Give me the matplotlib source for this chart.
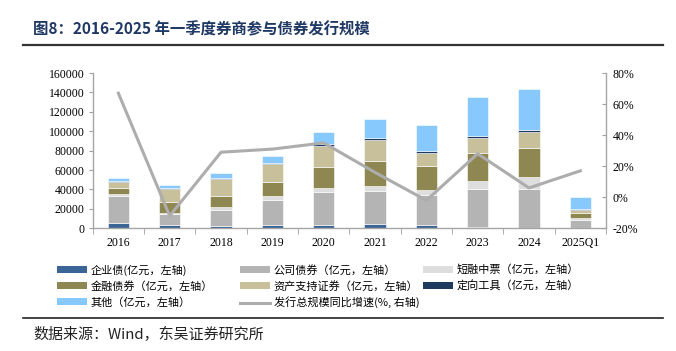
import matplotlib
matplotlib.use("Agg")
import matplotlib.pyplot as plt
import numpy as np
from matplotlib.patches import Patch
from matplotlib.lines import Line2D

categories = ["2016", "2017", "2018", "2019", "2020", "2021", "2022", "2023", "2024", "2025Q1"]
qiyezhai = [5800, 3400, 2700, 3400, 3400, 4500, 3400, 1700, 300, 0]
gongsi = [27800, 11000, 16200, 25800, 34400, 34200, 31000, 38500, 39900, 8600]
duanrong = [1400, 1700, 2800, 4100, 4100, 4800, 5100, 8500, 12400, 2300]
jinrong = [6300, 11400, 11600, 14800, 21700, 26100, 24800, 29200, 30000, 5200]
abs_ = [6800, 12700, 17600, 17900, 21300, 21200, 13700, 14900, 16100, 2800]
dingxiang = [1000, 1100, 1000, 1400, 2100, 2100, 2100, 2400, 2700, 1300]
qita = [3100, 3100, 4900, 7200, 12700, 19500, 26200, 39900, 42000, 12400]
growth = [67, -12, 29, 31, 35, 16, -2, 28, 6, 17]

series = [
    ("企业债(亿元，左轴)", qiyezhai, "#3B6597"),
    ("公司债券（亿元，左轴）", gongsi, "#B4B4B4"),
    ("短融中票（亿元，左轴）", duanrong, "#DEDEDE"),
    ("金融债券（亿元，左轴）", jinrong, "#8F8751"),
    ("资产支持证券（亿元，左轴）", abs_, "#C7C09B"),
    ("定向工具（亿元，左轴）", dingxiang, "#1E3A5F"),
    ("其他（亿元，左轴）", qita, "#88C9FD"),
]
line_label = "发行总规模同比增速(%, 右轴)"
line_color = "#ADADAD"

CJK = ["Noto Sans CJK SC", "DejaVu Sans"]
SERIF = ["Liberation Serif", "Noto Sans CJK SC"]

fig = plt.figure(figsize=(6.76, 3.51), dpi=100)
W, H = 676, 351
ax = fig.add_axes([92.7 / W, 1 - 228.3 / H, (606 - 92.7) / W, (228.3 - 73) / H])

x = np.arange(len(categories))
bottom = np.zeros(len(categories))
for name, vals, col in series:
    ax.bar(x, vals, width=0.42, bottom=bottom, color=col, edgecolor="white", linewidth=0.4, zorder=2)
    bottom += np.array(vals)

ax.set_xlim(-0.5, len(categories) - 0.5)
ax.set_ylim(0, 160000)
ax.set_yticks(np.arange(0, 160001, 20000))
ax.set_yticklabels([str(v) for v in range(0, 160001, 20000)], fontfamily=SERIF, fontsize=8.5)
ax.set_xticks(x)
ax.set_xticklabels(categories, fontfamily=SERIF, fontsize=8.5)
ax.set_xticks(np.arange(-0.5, len(categories)), minor=True)
ax.tick_params(axis="x", which="major", length=0, pad=6)
ax.tick_params(axis="x", which="minor", length=4, color="#A0A0A0", direction="out")
ax.tick_params(axis="y", length=3, color="#A0A0A0", direction="out", pad=3)
for s in ["top", "right"]:
    ax.spines[s].set_visible(False)
for s in ["left", "bottom"]:
    ax.spines[s].set_color("#A6A6A6")
    ax.spines[s].set_linewidth(1.0)

ax2 = ax.twinx()
ax2.plot(x, growth, color=line_color, linewidth=2.2, zorder=3)
ax2.set_ylim(-20, 80)
ax2.set_yticks(np.arange(-20, 81, 20))
ax2.set_yticklabels([f"{v}%" for v in range(-20, 81, 20)], fontfamily=SERIF, fontsize=8.5)
ax2.tick_params(axis="y", length=3, color="#A0A0A0", direction="in", pad=5)
for s in ["top", "left", "bottom"]:
    ax2.spines[s].set_visible(False)
ax2.spines["right"].set_color("#A6A6A6")
ax2.spines["right"].set_linewidth(1.0)

# legend: three columns
handles = [Patch(facecolor=c, edgecolor="none", label=n) for n, _, c in series]
line_handle = Line2D([], [], color=line_color, linewidth=2.2, label=line_label)
cols = [
    [handles[0], handles[3], handles[6]],
    [handles[1], handles[4], line_handle],
    [handles[2], handles[5]],
]
xs = [57, 240, 423]
for hx, hs in zip(xs, cols):
    leg = fig.legend(handles=hs, loc="upper left", bbox_to_anchor=(hx / W, 1 - 264.5 / H),
                     frameon=False, ncol=1, prop={"family": CJK, "size": 8},
                     handlelength=2.7, handleheight=0.55, handletextpad=0.35,
                     labelspacing=0.45, borderaxespad=0, borderpad=0)

# title and lines
fig.text(33 / W, 1 - 29.5 / H, "图8：2016-2025 年一季度券商参与债券发行规模", fontfamily=CJK,
         fontsize=11.1, fontweight="bold", color="#1F3864", va="center", ha="left")
fig.add_artist(Line2D([23 / W, 663 / W], [1 - 45 / H, 1 - 45 / H], color="#333333", linewidth=1.6))
fig.add_artist(Line2D([23 / W, 663 / W], [1 - 318 / H, 1 - 318 / H], color="#222222", linewidth=1.2))
fig.text(33 / W, 1 - 334 / H, "数据来源：Wind，东吴证券研究所", fontfamily=["Noto Sans CJK SC", "DejaVu Sans"],
         fontsize=10.8, color="#222222", va="center", ha="left")

fig.savefig("out.png", dpi=100)
